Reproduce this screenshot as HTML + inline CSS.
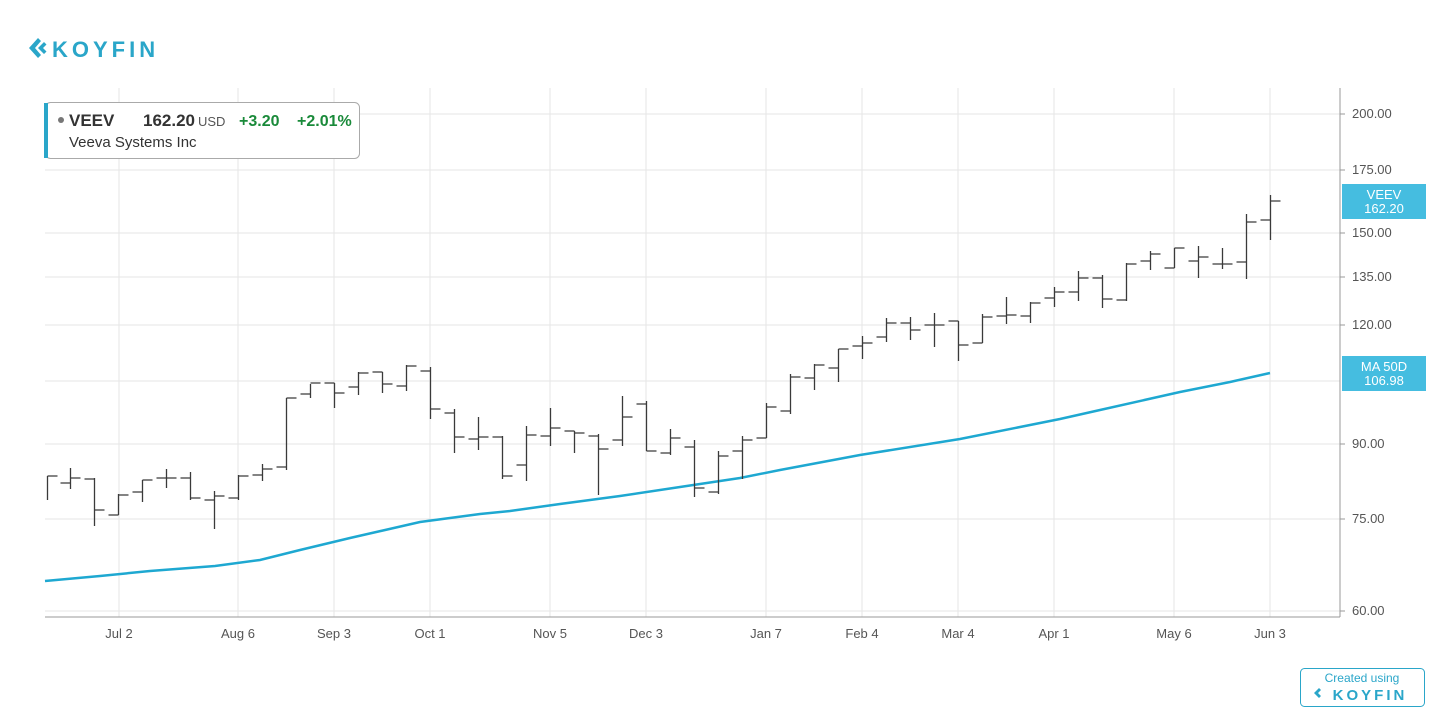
<!DOCTYPE html>
<html><head><meta charset="utf-8"><style>
body{margin:0;background:#fff;font-family:"Liberation Sans",sans-serif}
</style></head><body>
<svg width="1456" height="728" xmlns="http://www.w3.org/2000/svg" font-family="Liberation Sans, sans-serif" style="display:block">
<rect width="1456" height="728" fill="#fff"/>
<g fill="#2aa6c9"><path d="M38 38 l-9 10 9 10 3-3-6-7 6-7z"/><path d="M44 42 l-6 6 6 6 2.5-2.5-3.5-3.5 3.5-3.5z"/></g>
<text x="52" y="57" font-size="22" font-weight="bold" fill="#2aa6c9" letter-spacing="4">KOYFIN</text>
<g stroke="#e6e6e6" stroke-width="1">
<line x1="119" y1="88" x2="119" y2="617"/><line x1="238" y1="88" x2="238" y2="617"/><line x1="334" y1="88" x2="334" y2="617"/><line x1="430" y1="88" x2="430" y2="617"/><line x1="550" y1="88" x2="550" y2="617"/><line x1="646" y1="88" x2="646" y2="617"/><line x1="766" y1="88" x2="766" y2="617"/><line x1="862" y1="88" x2="862" y2="617"/><line x1="958" y1="88" x2="958" y2="617"/><line x1="1054" y1="88" x2="1054" y2="617"/><line x1="1174" y1="88" x2="1174" y2="617"/><line x1="1270" y1="88" x2="1270" y2="617"/>
<line x1="45" y1="114" x2="1340" y2="114"/><line x1="45" y1="170" x2="1340" y2="170"/><line x1="45" y1="233" x2="1340" y2="233"/><line x1="45" y1="277" x2="1340" y2="277"/><line x1="45" y1="325" x2="1340" y2="325"/><line x1="45" y1="381" x2="1340" y2="381"/><line x1="45" y1="444" x2="1340" y2="444"/><line x1="45" y1="519" x2="1340" y2="519"/><line x1="45" y1="611" x2="1340" y2="611"/>
</g>
<line x1="45" y1="617" x2="1340" y2="617" stroke="#999"/>
<line x1="1340" y1="88" x2="1340" y2="617" stroke="#999"/>
<g stroke="#999"><line x1="1340" y1="114" x2="1345" y2="114"/><line x1="1340" y1="170" x2="1345" y2="170"/><line x1="1340" y1="233" x2="1345" y2="233"/><line x1="1340" y1="277" x2="1345" y2="277"/><line x1="1340" y1="325" x2="1345" y2="325"/><line x1="1340" y1="444" x2="1345" y2="444"/><line x1="1340" y1="519" x2="1345" y2="519"/><line x1="1340" y1="611" x2="1345" y2="611"/></g>
<g font-size="13" fill="#555">
<text x="1352" y="118">200.00</text><text x="1352" y="174">175.00</text><text x="1352" y="237">150.00</text><text x="1352" y="281">135.00</text><text x="1352" y="329">120.00</text><text x="1352" y="448">90.00</text><text x="1352" y="523">75.00</text><text x="1352" y="615">60.00</text>
</g>
<g font-size="13" fill="#555" text-anchor="middle">
<text x="119" y="638">Jul 2</text><text x="238" y="638">Aug 6</text><text x="334" y="638">Sep 3</text><text x="430" y="638">Oct 1</text><text x="550" y="638">Nov 5</text><text x="646" y="638">Dec 3</text><text x="766" y="638">Jan 7</text><text x="862" y="638">Feb 4</text><text x="958" y="638">Mar 4</text><text x="1054" y="638">Apr 1</text><text x="1174" y="638">May 6</text><text x="1270" y="638">Jun 3</text>
</g>
<polyline fill="none" stroke="#1ea8d1" stroke-width="2.5" points="45,581 100,576 150,571 215,566 260,560 300,550 350,538 420,522 480,514 510,511 560,504 620,496 680,487 740,478 780,470 860,455 960,439 1060,419 1100,410 1180,392 1230,382 1270,373"/>
<path stroke="#3a3a3a" stroke-width="1.3" fill="none" d="
M47.5 476V500M47.5 476H57.5
M70.5 468V489M60.5 483H70.5M70.5 478H80.5
M94.5 478V526M84.5 479H94.5M94.5 510H104.5
M118.5 494V515M108.5 515H118.5M118.5 495H128.5
M142.5 480V502M132.5 492H142.5M142.5 480H152.5
M166.5 469V488M156.5 478H166.5M166.5 478H176.5
M190.5 472V500M180.5 478H190.5M190.5 498H200.5
M214.5 491V529M204.5 500H214.5M214.5 496H224.5
M238.5 475V500M228.5 498H238.5M238.5 476H248.5
M262.5 464V481M252.5 475H262.5M262.5 469H272.5
M286.5 398V470M276.5 467H286.5M286.5 398H296.5
M310.5 384V398M300.5 394H310.5M310.5 383H320.5
M334.5 383V408M324.5 383H334.5M334.5 393H344.5
M358.5 372V395M348.5 387H358.5M358.5 373H368.5
M382.5 372V393M372.5 372H382.5M382.5 384H392.5
M406.5 365V391M396.5 386H406.5M406.5 366H416.5
M430.5 367V419M420.5 371H430.5M430.5 409H440.5
M454.5 409V453M444.5 413H454.5M454.5 437H464.5
M478.5 417V450M468.5 439H478.5M478.5 437H488.5
M502.5 436V479M492.5 437H502.5M502.5 476H512.5
M526.5 426V481M516.5 465H526.5M526.5 435H536.5
M550.5 408V446M540.5 436H550.5M550.5 428H560.5
M574.5 431V453M564.5 431H574.5M574.5 433H584.5
M598.5 434V495M588.5 436H598.5M598.5 449H608.5
M622.5 396V446M612.5 440H622.5M622.5 417H632.5
M646.5 401V451M636.5 404H646.5M646.5 451H656.5
M670.5 429V455M660.5 453H670.5M670.5 438H680.5
M694.5 440V497M684.5 447H694.5M694.5 488H704.5
M718.5 451V494M708.5 492H718.5M718.5 456H728.5
M742.5 436V479M732.5 451H742.5M742.5 440H752.5
M766.5 403V438M756.5 438H766.5M766.5 407H776.5
M790.5 374V414M780.5 411H790.5M790.5 377H800.5
M814.5 364V390M804.5 378H814.5M814.5 365H824.5
M838.5 349V382M828.5 368H838.5M838.5 349H848.5
M862.5 336V359M852.5 346H862.5M862.5 343H872.5
M886.5 318V342M876.5 337H886.5M886.5 323H896.5
M910.5 317V340M900.5 323H910.5M910.5 330H920.5
M934.5 313V347M924.5 325H934.5M934.5 325H944.5
M958.5 321V361M948.5 321H958.5M958.5 345H968.5
M982.5 314V343M972.5 343H982.5M982.5 317H992.5
M1006.5 297V324M996.5 316H1006.5M1006.5 315H1016.5
M1030.5 302V323M1020.5 316H1030.5M1030.5 303H1040.5
M1054.5 287V307M1044.5 298H1054.5M1054.5 292H1064.5
M1078.5 271V301M1068.5 292H1078.5M1078.5 278H1088.5
M1102.5 275V308M1092.5 278H1102.5M1102.5 299H1112.5
M1126.5 263V301M1116.5 300H1126.5M1126.5 264H1136.5
M1150.5 251V270M1140.5 261H1150.5M1150.5 254H1160.5
M1174.5 248V268M1164.5 268H1174.5M1174.5 248H1184.5
M1198.5 246V278M1188.5 261H1198.5M1198.5 257H1208.5
M1222.5 248V269M1212.5 264H1222.5M1222.5 264H1232.5
M1246.5 214V279M1236.5 262H1246.5M1246.5 222H1256.5
M1270.5 195V240M1260.5 220H1270.5M1270.5 201H1280.5"/>
<rect x="45.5" y="102.5" width="314" height="56" rx="5" fill="#fff" stroke="#aaa"/>
<rect x="44" y="103" width="4" height="55" fill="#2aa6c9"/>
<circle cx="61" cy="120" r="3" fill="#777"/>
<text x="69" y="126" font-size="17" font-weight="bold" fill="#333">VEEV</text>
<text x="143" y="126" font-size="17" font-weight="bold" fill="#333">162.20</text>
<text x="198" y="126" font-size="13" fill="#555">USD</text>
<text x="239" y="126" font-size="16" font-weight="bold" fill="#1a8a3a">+3.20</text>
<text x="297" y="126" font-size="16" font-weight="bold" fill="#1a8a3a">+2.01%</text>
<text x="69" y="147" font-size="15" fill="#333">Veeva Systems Inc</text>
<rect x="1342" y="184" width="84" height="35" fill="#45bde0"/>
<text x="1384" y="199" font-size="13" fill="#fff" text-anchor="middle">VEEV</text>
<text x="1384" y="213" font-size="13" fill="#fff" text-anchor="middle">162.20</text>
<rect x="1342" y="356" width="84" height="35" fill="#45bde0"/>
<text x="1384" y="371" font-size="13" fill="#fff" text-anchor="middle">MA 50D</text>
<text x="1384" y="385" font-size="13" fill="#fff" text-anchor="middle">106.98</text>
<rect x="1300.5" y="668.5" width="124" height="38" rx="4" fill="#fff" stroke="#2aa6c9"/>
<text x="1362" y="682" font-size="12" fill="#2aa6c9" text-anchor="middle">Created using</text>
<text x="1370" y="700" font-size="15" font-weight="bold" fill="#2aa6c9" text-anchor="middle" letter-spacing="3">KOYFIN</text>
<path d="M1319 688 l-5 5 5 5 2-2-3-3 3-3z" fill="#2aa6c9"/>
</svg>
</body></html>
